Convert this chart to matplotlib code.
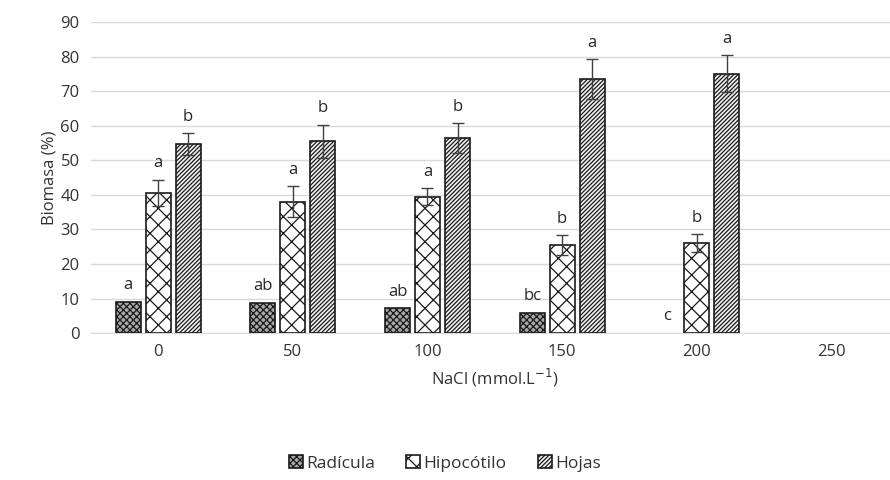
import numpy as np
import matplotlib
matplotlib.use("Agg")
import matplotlib.pyplot as plt

plt.rcParams['font.family'] = ['Open Sans', 'DejaVu Sans']
plt.rcParams['hatch.linewidth'] = 0.9

# datos
categorias = ['0', '50', '100', '150', '200', '250']
radicula = [9.0, 8.7, 7.2, 5.8, 0.0, np.nan]
radicula_err = [0, 0, 0, 0, 0, 0]
hipocotilo = [40.6, 38.0, 39.5, 25.4, 26.0, np.nan]
hipocotilo_err = [3.7, 4.5, 2.4, 2.9, 2.6, 0]
hojas = [54.6, 55.5, 56.4, 73.4, 75.1, np.nan]
hojas_err = [3.2, 4.8, 4.3, 5.8, 5.3, 0]

letras_rad = ['a', 'ab', 'ab', 'bc', 'c', '']
letras_hip = ['a', 'a', 'a', 'b', 'b', '']
letras_hoj = ['b', 'b', 'b', 'a', 'a', '']

x = np.arange(len(categorias))
ancho = 0.185
sep = 0.223

fig = plt.figure(figsize=(8.9, 4.8), dpi=100)
ax = fig.add_axes([0.102, 0.306, 0.908, 0.648])

series = [
    (radicula, radicula_err, letras_rad, -sep, '#a8a8a8', 'xxxxx', 'Radícula'),
    (hipocotilo, hipocotilo_err, letras_hip, 0, 'white', 'xx', 'Hipocótilo'),
    (hojas, hojas_err, letras_hoj, sep, '#f2f2f2', '////////', 'Hojas'),
]

for vals, errs, letras, off, fc, hatch, nombre in series:
    vals = np.array(vals, dtype=float)
    errs = np.array(errs, dtype=float)
    h = np.where(vals > 0, vals, np.nan)
    ax.bar(x + off, h, width=ancho, color=fc, edgecolor='#1a1a1a',
           hatch=hatch, linewidth=1.2, label=nombre, zorder=3)
    m = (errs > 0) & ~np.isnan(vals)
    ax.errorbar(x[m] + off, vals[m], yerr=errs[m], fmt='none', ecolor='#404040',
                elinewidth=1.0, capsize=4, capthick=1.0, zorder=4)
    for xi, v, e, t in zip(x, vals, errs, letras):
        if t == '':
            continue
        ax.text(xi + off, v + e + 2.5, t, ha='center', va='bottom',
                fontsize=12, color='#262626', zorder=5)

ax.set_xlim(-0.5, len(categorias) - 0.5)
ax.set_ylim(0, 90)
ax.set_yticks(np.arange(0, 91, 10))
ax.set_xticks(x)
ax.set_xticklabels(categorias)
ax.yaxis.grid(True, color='#d9d9d9', linewidth=1.0, zorder=0)
ax.set_axisbelow(True)
for s in ['top', 'right', 'left']:
    ax.spines[s].set_visible(False)
ax.spines['bottom'].set_color('#d9d9d9')
ax.tick_params(axis='both', length=0, labelsize=12, colors='#333333', pad=8)
ax.set_ylabel('Biomasa (%)', fontsize=12, color='#333333', labelpad=2)
ax.set_xlabel('NaCl (mmol.L$^{-1}$)', fontsize=12, color='#333333', labelpad=5)

fig.legend(loc='lower center', bbox_to_anchor=(0.5, -0.015), ncol=3, frameon=False,
           fontsize=12.5, handlelength=0.8, handleheight=0.8, handletextpad=0.2,
           columnspacing=1.8, labelcolor='#333333')

fig.savefig('out.png', dpi=100)
